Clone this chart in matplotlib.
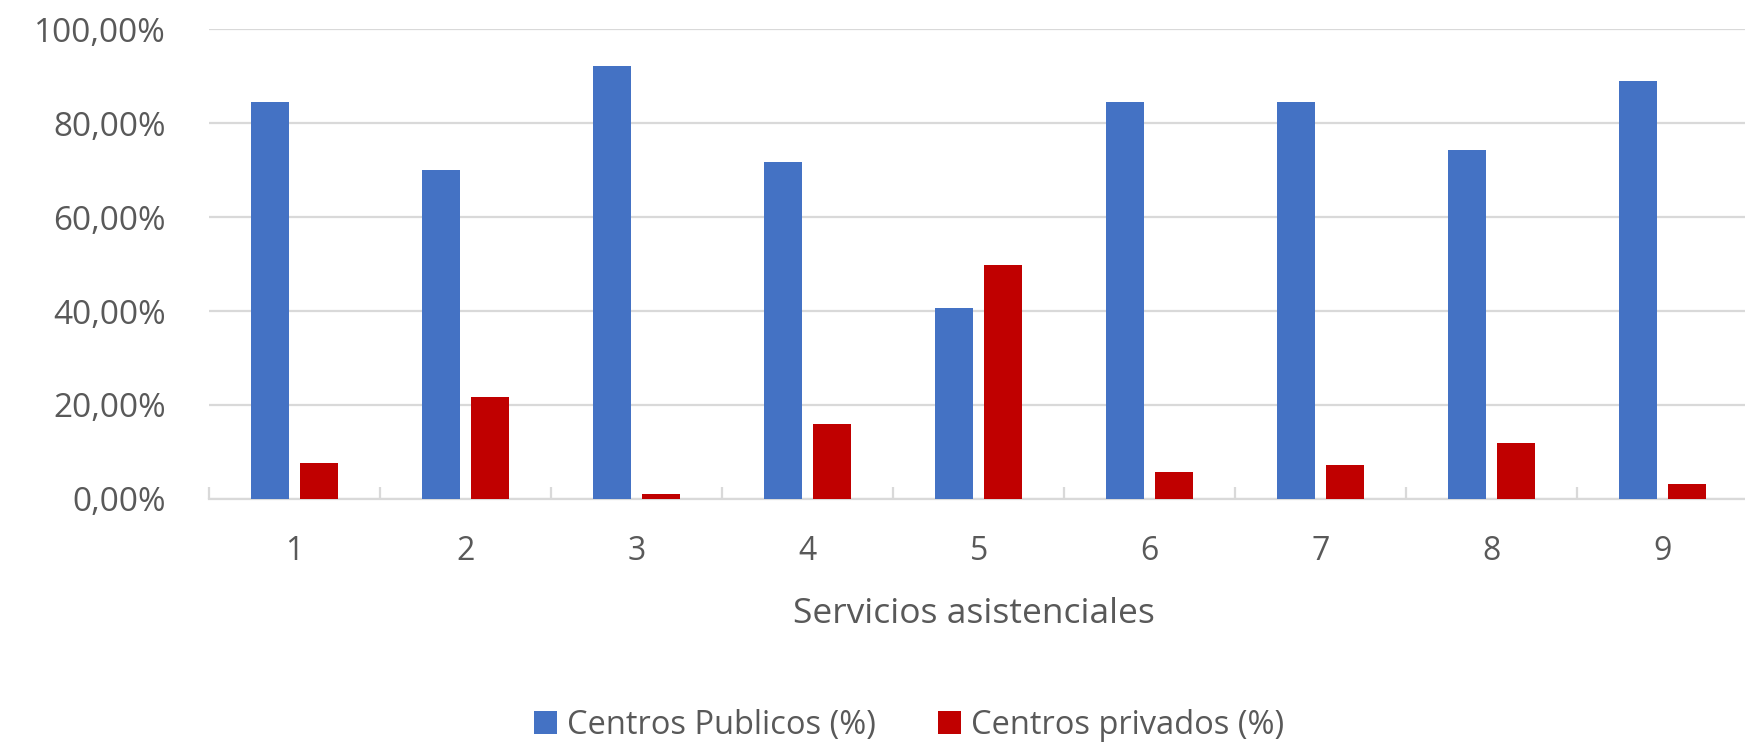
import numpy as np
import matplotlib
matplotlib.use("Agg")
import matplotlib.pyplot as plt
from matplotlib.ticker import FuncFormatter, MultipleLocator

# values (percent)
servicios = ['1', '2', '3', '4', '5', '6', '7', '8', '9']
publicos = [84.5, 70.1, 92.2, 71.6, 40.7, 84.5, 84.5, 74.3, 88.9]
privados = [7.7, 21.6, 1.1, 16.0, 49.7, 5.7, 7.2, 12.0, 3.1]
series_names = ['Centros Publicos (%)', 'Centros privados (%)']

blue = '#4472C4'
red = '#C00000'
grid_col = '#D9D9D9'
text_col = '#595959'

fig = plt.figure(figsize=(17.45, 7.42), dpi=100)
ax = fig.add_axes([0.1198, 0.3275, 0.882, 0.6334])

x = np.arange(1, len(servicios) + 1)
w = 0.222
off = 0.143
ax.bar(x - off, publicos, width=w, color=blue, label=series_names[0], zorder=3)
ax.bar(x + off, privados, width=w, color=red, label=series_names[1], zorder=3)

ax.set_xlim(0.5, len(servicios) + 0.5)
ax.set_ylim(0, 100)
ax.yaxis.set_major_locator(MultipleLocator(20))
ax.yaxis.set_major_formatter(FuncFormatter(lambda v, p: f'{v:.2f}%'.replace('.', ',')))
ax.grid(axis='y', color=grid_col, linewidth=1.6, zorder=0)

for s in ['top', 'right', 'left']:
    ax.spines[s].set_visible(False)
ax.spines['bottom'].set_color(grid_col)
ax.spines['bottom'].set_linewidth(1.6)

ax.set_xticks(x)
ax.set_xticklabels(servicios)
ax.set_xticks(np.arange(0.5, len(servicios) + 1), minor=True)
ax.tick_params(axis='x', which='major', length=0, pad=26, labelsize=23, labelcolor=text_col)
ax.tick_params(axis='x', which='minor', length=9, width=1.6, direction='in', color=grid_col)
ax.tick_params(axis='y', length=0, pad=31, labelsize=24, labelcolor=text_col)
for lab in ax.get_xticklabels() + ax.get_yticklabels():
    lab.set_family('Open Sans')

ax.set_xlabel('Servicios asistenciales', fontsize=25.5, color=text_col, family='Open Sans')
ax.xaxis.set_label_coords(0.497, -0.245)
ax.xaxis.label.set_va('center')

fig.legend(loc='center', bbox_to_anchor=(0.521, 0.0225), ncol=2, frameon=False,
           prop={'family': 'Open Sans', 'size': 23.5}, labelcolor=text_col,
           handlelength=0.7, handleheight=0.7, handletextpad=0.3, columnspacing=1.9,
           borderpad=0.1)

fig.savefig('out.png', dpi=100)
